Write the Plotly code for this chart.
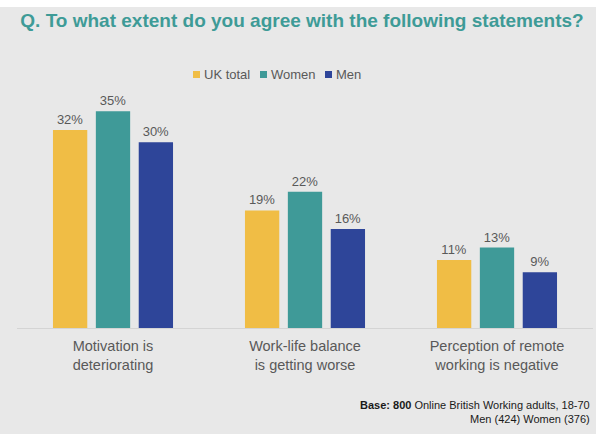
import plotly.graph_objects as go

# survey results (%)
categories = ["Motivation is<br>deteriorating",
              "Work-life balance<br>is getting worse",
              "Perception of remote<br>working is negative"]
uk_total = [32, 19, 11]
women = [35, 22, 13]
men = [30, 16, 9]

series = [("UK total", uk_total, "#f0bd45"),
          ("Women", women, "#3f9a98"),
          ("Men", men, "#2e4599")]

W, H = 596, 434
M_L, M_R, M_T, M_B = 17, 3, 100, 106
plot_h = H - M_T - M_B
plot_w = W - M_L - M_R


def px_x(p):
    return (p - M_L) / plot_w


def px_y(p):
    return 1 - (p - M_T) / plot_h


fig = go.Figure()
for name, vals, col in series:
    fig.add_trace(go.Bar(
        x=categories, y=vals, name=name,
        marker=dict(color=col, line=dict(width=0)),
        text=[f"{v}%" for v in vals], textposition="outside",
        textfont=dict(color="#595959", size=13),
        cliponaxis=False,
    ))

fig.update_layout(
    width=W, height=H,
    margin=dict(l=M_L, r=M_R, t=M_T, b=M_B),
    paper_bgcolor="#e8e8e8", plot_bgcolor="#e8e8e8",
    font=dict(family="Liberation Sans, Arial, sans-serif", color="#595959"),
    barmode="group", bargap=0.33, bargroupgap=0.2,
    showlegend=False,
    title=dict(text="<b>Q. To what extent do you agree with the following statements?</b>",
               x=0.5 + 4 / W, xanchor="center", xref="container",
               y=1 - 20 / H, yanchor="middle", yref="container",
               font=dict(size=19, color="#3e9b97")),
    xaxis=dict(showline=True, linecolor="#d4d4d4", linewidth=1,
               ticks="", showgrid=False, ticklabelstandoff=5,
               tickfont=dict(size=14.5, color="#595959")),
    yaxis=dict(range=[0, plot_h / 6.19], visible=False, showgrid=False,
               zeroline=False),
)

# white strip along the top edge
fig.add_shape(type="rect", xref="paper", yref="paper", layer="below",
              x0=px_x(0), x1=px_x(W), y0=px_y(7), y1=px_y(0),
              fillcolor="white", line=dict(width=0))

# legend drawn as small squares + labels
legend_x = [193, 260, 325]
for (name, _, col), lx in zip(series, legend_x):
    fig.add_shape(type="rect", xref="paper", yref="paper",
                  x0=px_x(lx), x1=px_x(lx + 7), y0=px_y(78), y1=px_y(71),
                  fillcolor=col, line=dict(width=0))
    fig.add_annotation(text=name, xref="paper", yref="paper",
                       x=px_x(lx + 9), xanchor="left", y=px_y(74.5), yanchor="middle",
                       showarrow=False, font=dict(size=13, color="#595959"))

# base note, kept fully inside the page
fig.add_annotation(
    text="<b>Base: 800</b> Online British Working adults, 18-70<br>Men (424) Women (376)",
    xref="paper", yref="paper", x=px_x(W - 4), xanchor="right",
    y=px_y(412), yanchor="middle",
    align="right", showarrow=False,
    font=dict(size=11, color="#1a1a1a"),
)

fig.write_html("out.html", config={"displayModeBar": False},
               post_script="document.body.style.margin='0px';")
